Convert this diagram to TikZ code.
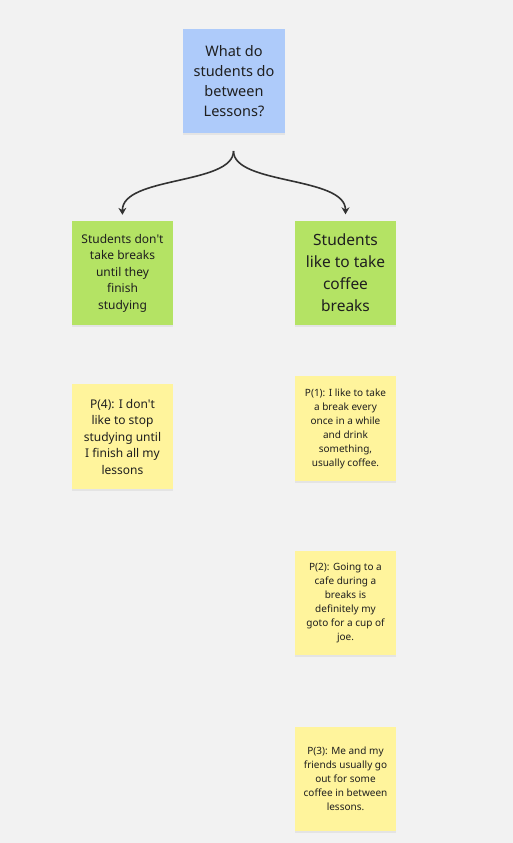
\documentclass[tikz,border=0pt]{standalone}
\usepackage{fontspec}
\setmainfont{Noto Sans}[Ligatures=TeXOff]
\usetikzlibrary{arrows.meta,shadows}
\definecolor{bg}{HTML}{F2F2F2}
\definecolor{qblue}{HTML}{AECBFA}
\definecolor{lgreen}{HTML}{B4E364}
\definecolor{syellow}{HTML}{FFF49C}
\definecolor{ink}{HTML}{1F1F1F}
\definecolor{linec}{HTML}{333333}
\tikzset{
  sticky/.style={rectangle, inner sep=0pt, minimum width=101pt, minimum height=104pt,
    align=center, text=ink, draw=none,
    drop shadow={opacity=0.12, shadow xshift=0pt, shadow yshift=-2pt}},
  conn/.style={draw=linec, line width=1.6pt, -{Stealth[length=7pt,width=8pt]}, shorten >=6pt}
}
\begin{document}
\begin{tikzpicture}[x=1pt,y=-1pt]
\fill[bg] (0,0) rectangle (513,843);
\useasboundingbox (0,0) rectangle (513,843);
\node[sticky, fill=qblue, minimum width=102pt, font=\fontsize{14.5}{20}\selectfont] (q) at (234,81) {What do\\students do\\between\\Lessons?};
\node[sticky, fill=lgreen, font=\fontsize{12}{16.5}\selectfont] (l) at (122.5,273) {Students don't\\take breaks\\until they\\finish\\studying};
\node[sticky, fill=lgreen, font=\fontsize{15.5}{22}\selectfont] (r) at (345.5,272.5) {Students\\like to take\\coffee\\breaks};
\node[sticky, fill=syellow, minimum height=105pt, font=\fontsize{12}{16.5}\selectfont] (p4) at (122.5,436.5) {P(4): I don't\\like to stop\\studying until\\I finish all my\\lessons};
\node[sticky, fill=syellow, minimum height=105pt, font=\fontsize{10}{14}\selectfont] (p1) at (345.5,428.5) {P(1): I like to take\\a break every\\once in a while\\and drink\\something,\\usually coffee.};
\node[sticky, fill=syellow, font=\fontsize{10}{14}\selectfont] (p2) at (345.5,603) {P(2): Going to a\\cafe during a\\breaks is\\definitely my\\goto for a cup of\\joe.};
\node[sticky, fill=syellow, font=\fontsize{10}{14}\selectfont] (p3) at (345.5,779) {P(3): Me and my\\friends usually go\\out for some\\coffee in between\\lessons.};
\coordinate (fork) at (233.5,151);
\draw[conn] (fork) .. controls (233.5,185) and (122,176) .. (l.north);
\draw[conn] (fork) .. controls (233.5,185) and (345.5,176) .. (r.north);
\end{tikzpicture}
\end{document}
